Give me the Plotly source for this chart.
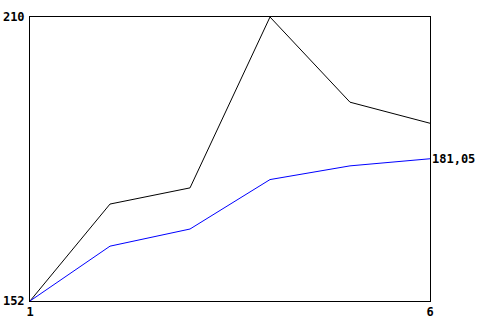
import plotly.graph_objects as go

x_vals = [1, 2, 3, 4, 5, 6]
black_series = [152, 171.8, 175.1, 210, 192.6, 188.3]
blue_series = [152, 163.2, 166.7, 176.8, 179.6, 181.05]
y_ticks = [152, 210]
y_tick_labels = ["152", "210"]
x_ticks = [1, 6]
x_tick_labels = ["1", "6"]
end_label = "181,05"

font = dict(family="DejaVu Sans Mono", size=12, color="black", weight="bold")

fig = go.Figure()
fig.add_trace(go.Scatter(x=x_vals, y=black_series, mode="lines",
                         line=dict(color="black", width=1), showlegend=False))
fig.add_trace(go.Scatter(x=x_vals, y=blue_series, mode="lines",
                         line=dict(color="#0000ff", width=1), showlegend=False))

fig.add_annotation(x=x_vals[-1], y=blue_series[-1], text=end_label, showarrow=False,
                   xanchor="left", yanchor="middle", xshift=0, font=font)

fig.update_layout(
    width=480, height=320,
    margin=dict(l=30, r=50, t=17, b=19),
    paper_bgcolor="white", plot_bgcolor="white",
    xaxis=dict(range=[1, 6], tickvals=x_ticks, ticktext=x_tick_labels,
               showgrid=False, zeroline=False, showline=True, mirror=True,
               linecolor="black", linewidth=1, ticks="", tickfont=font,
               automargin=False),
    yaxis=dict(range=[152, 210], tickvals=y_ticks, ticktext=y_tick_labels,
               showgrid=False, zeroline=False, showline=True, mirror=True,
               linecolor="black", linewidth=1, ticks="", tickfont=font,
               ticklabelstandoff=2, automargin=False),
)

fig.write_html("out.html",
               config={"displayModeBar": False},
               post_script="document.body.style.margin='0';document.body.style.overflow='hidden';")
